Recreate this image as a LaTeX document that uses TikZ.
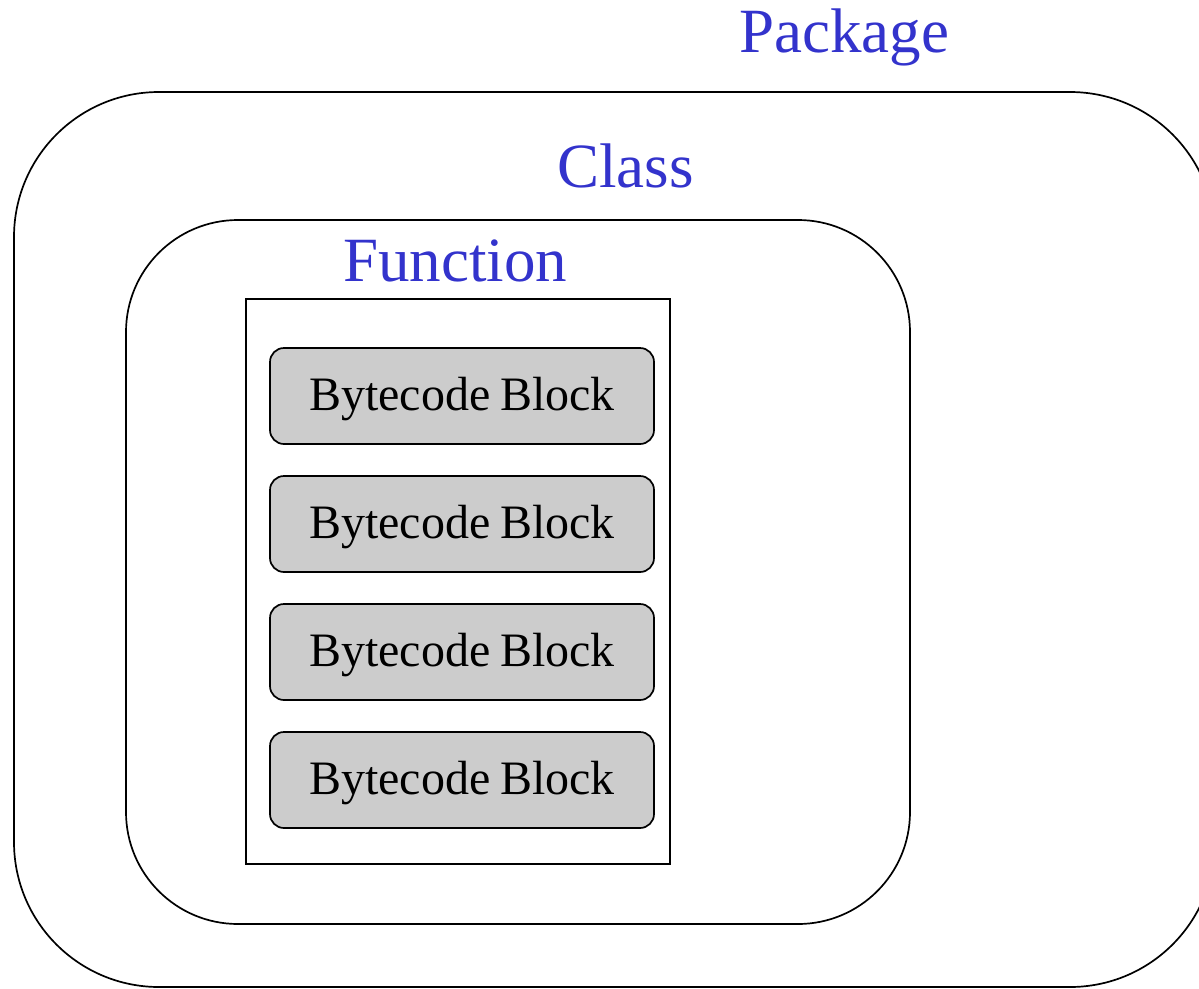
\documentclass[tikz,border=0pt]{standalone}
\usepackage{fontspec}
\setmainfont{Liberation Serif}
\definecolor{labelblue}{HTML}{3333CC}
\definecolor{blockgray}{HTML}{CCCCCC}
\tikzset{
  container/.style={draw=black, line width=1.7pt, inner sep=0pt},
  title/.style={anchor=base west, inner sep=0pt, text=labelblue,
    font=\fontsize{63}{70}\selectfont},
  codeblock/.style={draw=black, line width=1.7pt, fill=blockgray,
    rounded corners=14pt, minimum width=384pt, minimum height=96pt,
    inner sep=0pt, text height=34pt, text depth=6pt,
    font=\fontsize{48}{56}\selectfont},
}
\begin{document}
\begin{tikzpicture}[x=1pt,y=-1pt]
  \useasboundingbox (0,0) rectangle (1199,988);
  \clip (0,0) rectangle (1199,988);

  % nested scopes: package > class > function > blocks
  \node[container, rounded corners=145pt, minimum width=1201pt, minimum height=895pt]
    (package) at (614.5,539.5) {};
  \node[container, rounded corners=112pt, minimum width=784pt, minimum height=704pt]
    (class) at (518,572) {};
  \node[container, minimum width=424pt, minimum height=565pt]
    (function) at (458,581.5) {};

  \node[title] (packagelabel) at (739,52) {Package};
  \node[title] (classlabel) at (557,187) {Class};
  \node[title] (functionlabel) at (343,281) {Function};

  \node[codeblock] (block1) at (462,396) {Bytecode\hspace{10pt}Block};
  \node[codeblock] (block2) at (462,524) {Bytecode\hspace{10pt}Block};
  \node[codeblock] (block3) at (462,652) {Bytecode\hspace{10pt}Block};
  \node[codeblock] (block4) at (462,780) {Bytecode\hspace{10pt}Block};
\end{tikzpicture}
\end{document}
